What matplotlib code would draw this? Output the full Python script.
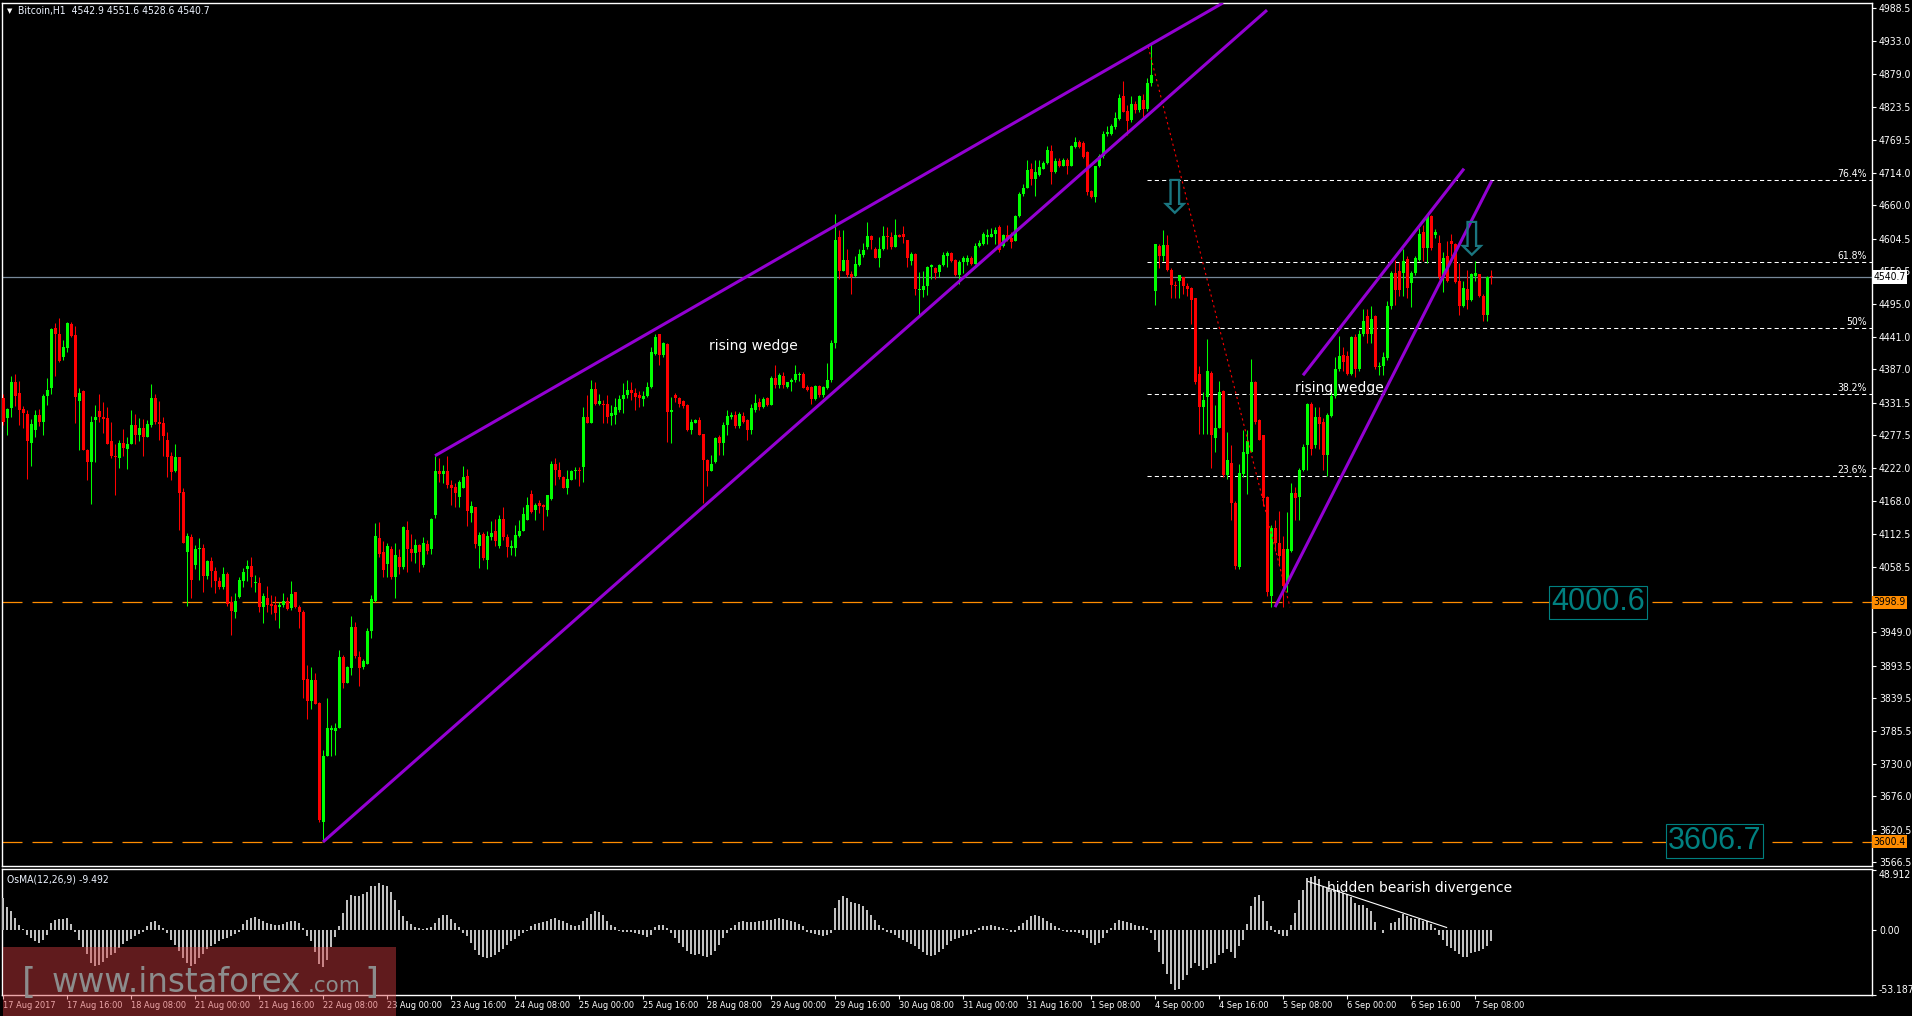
import matplotlib
matplotlib.use('Agg')
import numpy as np
import matplotlib.pyplot as plt
from matplotlib import font_manager
from matplotlib.patches import Rectangle
from matplotlib.transforms import blended_transform_factory

# Bitcoin H1 bars, 17 Aug 2017 00:00 .. 7 Sep 2017 12:00 (weekends skipped)
opens = [
    4339, 4306, 4323, 4365, 4347, 4321, 4312, 4265, 4286, 4311, 4300, 4343,
    4356, 4456, 4446, 4407, 4422, 4462, 4444, 4334, 4351, 4252, 4232, 4302,
    4318, 4308, 4306, 4267, 4243, 4239, 4265, 4255, 4262, 4295, 4278, 4289,
    4275, 4295, 4339, 4300, 4297, 4269, 4242, 4217, 4241, 4183, 4083, 4107,
    4061, 4087, 4090, 4043, 4068, 4051, 4035, 4025, 4046, 3999, 3983, 4008,
    4034, 4054, 4059, 4031, 4031, 3991, 4007, 3996, 3994, 3991, 3994, 4002,
    3989, 4017, 3992, 3983, 3871, 3834, 3870, 3831, 3634, 3743, 3786, 3784,
    3789, 3908, 3865, 3889, 3958, 3908, 3892, 3897, 3951, 4002, 4106, 4083,
    4062, 4087, 4041, 4075, 4057, 4119, 4088, 4081, 4094, 4061, 4096, 4087,
    4144, 4218, 4213, 4217, 4194, 4191, 4174, 4190, 4210, 4148, 4157, 4093,
    4113, 4070, 4107, 4118, 4093, 4137, 4108, 4090, 4089, 4110, 4118, 4136,
    4179, 4152, 4164, 4161, 4153, 4171, 4229, 4219, 4208, 4190, 4203, 4218,
    4220, 4225, 4307, 4298, 4354, 4330, 4330, 4329, 4309, 4311, 4320, 4337,
    4344, 4352, 4348, 4344, 4337, 4343, 4357, 4413, 4446, 4411, 4429, 4316,
    4344, 4339, 4334, 4327, 4286, 4298, 4302, 4279, 4236, 4218, 4233, 4274,
    4265, 4294, 4307, 4311, 4293, 4309, 4302, 4286, 4320, 4333, 4325, 4339,
    4328, 4372, 4361, 4376, 4358, 4366, 4369, 4378, 4379, 4358, 4358, 4337,
    4359, 4344, 4355, 4369, 4430, 4608, 4550, 4569, 4546, 4542, 4561, 4577,
    4590, 4609, 4588, 4572, 4587, 4609, 4608, 4591, 4611, 4612, 4602, 4568,
    4579, 4519, 4519, 4525, 4557, 4555, 4549, 4561, 4576, 4581, 4569, 4544,
    4565, 4565, 4572, 4563, 4592, 4596, 4608, 4608, 4612, 4624, 4593, 4610,
    4606, 4600, 4643, 4679, 4689, 4720, 4704, 4710, 4721, 4731, 4750, 4715,
    4733, 4725, 4735, 4726, 4757, 4765, 4763, 4748, 4683, 4674, 4725, 4742,
    4778, 4779, 4790, 4804, 4842, 4817, 4802, 4829, 4819, 4836, 4820, 4863,
    4518, 4593, 4575, 4594, 4553, 4526, 4534, 4541, 4526, 4522, 4505, 4379,
    4324, 4341, 4380, 4272, 4289, 4350, 4211, 4231, 4164, 4057, 4212, 4246,
    4249, 4365, 4302, 4277, 4175, 4010, 4123, 4098, 4087, 4029, 4084, 4181,
    4175, 4220, 4261, 4330, 4261, 4308, 4299, 4245, 4310, 4343, 4387, 4411,
    4409, 4379, 4440, 4387, 4445, 4476, 4446, 4475, 4390, 4393, 4405, 4493,
    4547, 4550, 4547, 4570, 4531, 4547, 4569, 4616, 4589, 4642, 4610, 4597,
    4543, 4575, 4601, 4595, 4534, 4493, 4520, 4503, 4542, 4545, 4509, 4478,
    4542.9]

highs = [
    4346, 4323, 4375, 4379, 4367, 4326, 4320, 4304, 4320, 4321, 4345, 4372,
    4456, 4464, 4472, 4435, 4466, 4466, 4459, 4355, 4352, 4255, 4309, 4328,
    4346, 4332, 4325, 4300, 4262, 4269, 4287, 4275, 4320, 4313, 4306, 4304,
    4302, 4362, 4345, 4335, 4308, 4282, 4250, 4262, 4241, 4190, 4114, 4112,
    4094, 4106, 4096, 4070, 4074, 4057, 4041, 4057, 4049, 4010, 4015, 4041,
    4056, 4069, 4074, 4045, 4041, 4015, 4027, 4012, 4010, 3999, 4015, 4008,
    4034, 4017, 3995, 3986, 3895, 3892, 3882, 3833, 3753, 3839, 3795, 3798,
    3919, 3912, 3893, 3976, 3967, 3918, 3905, 3957, 4012, 4131, 4132, 4101,
    4098, 4093, 4098, 4087, 4126, 4134, 4113, 4105, 4096, 4107, 4103, 4140,
    4243, 4239, 4228, 4242, 4203, 4197, 4202, 4226, 4221, 4168, 4158, 4116,
    4116, 4118, 4135, 4137, 4145, 4158, 4112, 4103, 4128, 4136, 4158, 4175,
    4186, 4165, 4170, 4162, 4178, 4235, 4240, 4233, 4209, 4219, 4220, 4224,
    4224, 4324, 4344, 4369, 4365, 4346, 4336, 4344, 4327, 4339, 4344, 4364,
    4369, 4366, 4355, 4350, 4350, 4365, 4424, 4446, 4446, 4433, 4430, 4341,
    4347, 4341, 4336, 4330, 4305, 4305, 4307, 4280, 4237, 4244, 4275, 4278,
    4300, 4320, 4316, 4318, 4316, 4316, 4305, 4330, 4346, 4339, 4341, 4341,
    4375, 4394, 4380, 4383, 4366, 4372, 4394, 4383, 4383, 4361, 4359, 4361,
    4361, 4359, 4397, 4436, 4646, 4619, 4619, 4587, 4550, 4575, 4587, 4597,
    4633, 4611, 4591, 4608, 4626, 4624, 4616, 4638, 4613, 4625, 4603, 4583,
    4580, 4549, 4551, 4559, 4562, 4558, 4562, 4583, 4584, 4583, 4570, 4569,
    4575, 4577, 4575, 4597, 4603, 4616, 4620, 4622, 4624, 4628, 4613, 4628,
    4616, 4644, 4682, 4696, 4735, 4731, 4735, 4735, 4733, 4758, 4760, 4738,
    4738, 4738, 4738, 4760, 4773, 4768, 4767, 4750, 4685, 4726, 4745, 4784,
    4792, 4795, 4815, 4846, 4867, 4827, 4842, 4833, 4844, 4845, 4872, 4928,
    4595, 4595, 4619, 4610, 4556, 4534, 4544, 4541, 4530, 4524, 4506, 4393,
    4349, 4437, 4384, 4327, 4368, 4352, 4283, 4261, 4167, 4230, 4286, 4286,
    4404, 4368, 4305, 4277, 4176, 4128, 4136, 4151, 4110, 4149, 4198, 4191,
    4223, 4262, 4331, 4333, 4324, 4324, 4306, 4315, 4358, 4407, 4443, 4424,
    4418, 4442, 4446, 4453, 4488, 4488, 4492, 4478, 4399, 4415, 4500, 4550,
    4569, 4566, 4588, 4575, 4550, 4576, 4622, 4627, 4646, 4644, 4620, 4610,
    4583, 4600, 4613, 4597, 4564, 4534, 4553, 4547, 4568, 4545, 4512, 4543,
    4551.6]

lows = [
    4294, 4278, 4307, 4326, 4294, 4289, 4205, 4226, 4275, 4293, 4278, 4328,
    4346, 4376, 4399, 4402, 4416, 4440, 4297, 4252, 4252, 4203, 4163, 4232,
    4300, 4281, 4262, 4239, 4177, 4223, 4242, 4221, 4262, 4262, 4268, 4242,
    4275, 4291, 4296, 4270, 4242, 4208, 4203, 4216, 4119, 4098, 3993, 4006,
    4054, 4036, 4017, 4038, 4025, 4014, 4022, 4022, 3993, 3944, 3973, 4006,
    4025, 4035, 4025, 4017, 3983, 3965, 3983, 3980, 3970, 3956, 3991, 3986,
    3986, 3989, 3956, 3840, 3805, 3821, 3829, 3633, 3600, 3743, 3743, 3745,
    3789, 3857, 3865, 3878, 3906, 3860, 3888, 3897, 3939, 3999, 4074, 4041,
    4041, 4038, 4006, 4046, 4055, 4049, 4067, 4064, 4049, 4057, 4080, 4079,
    4140, 4200, 4198, 4189, 4161, 4158, 4157, 4189, 4126, 4133, 4090, 4056,
    4070, 4054, 4103, 4092, 4090, 4103, 4075, 4078, 4076, 4108, 4117, 4136,
    4147, 4136, 4148, 4120, 4143, 4170, 4194, 4204, 4189, 4179, 4203, 4204,
    4193, 4200, 4297, 4297, 4327, 4327, 4297, 4297, 4294, 4296, 4316, 4314,
    4339, 4336, 4320, 4325, 4326, 4341, 4355, 4411, 4394, 4408, 4266, 4264,
    4333, 4325, 4322, 4285, 4279, 4297, 4278, 4164, 4192, 4218, 4231, 4244,
    4244, 4278, 4305, 4289, 4290, 4297, 4270, 4280, 4316, 4319, 4322, 4326,
    4328, 4355, 4355, 4355, 4355, 4350, 4366, 4368, 4355, 4350, 4330, 4336,
    4341, 4341, 4354, 4366, 4422, 4537, 4550, 4541, 4513, 4541, 4559, 4574,
    4588, 4588, 4572, 4557, 4586, 4588, 4588, 4591, 4608, 4597, 4557, 4561,
    4511, 4475, 4508, 4511, 4538, 4538, 4541, 4559, 4558, 4566, 4542, 4529,
    4548, 4561, 4561, 4562, 4590, 4594, 4596, 4608, 4596, 4583, 4591, 4600,
    4589, 4600, 4641, 4676, 4688, 4694, 4676, 4708, 4720, 4729, 4696, 4713,
    4723, 4725, 4712, 4725, 4756, 4756, 4738, 4677, 4672, 4666, 4723, 4739,
    4776, 4777, 4787, 4802, 4815, 4777, 4798, 4814, 4815, 4806, 4817, 4858,
    4494, 4556, 4568, 4550, 4506, 4506, 4505, 4512, 4509, 4462, 4362, 4280,
    4280, 4280, 4223, 4249, 4289, 4208, 4205, 4136, 4054, 4054, 4208, 4180,
    4249, 4296, 4270, 4159, 4010, 3991, 4085, 4060, 3991, 4016, 4082, 4136,
    4136, 4217, 4220, 4245, 4256, 4255, 4220, 4210, 4308, 4340, 4384, 4384,
    4377, 4377, 4374, 4384, 4443, 4431, 4431, 4387, 4377, 4377, 4402, 4487,
    4494, 4509, 4509, 4506, 4490, 4544, 4568, 4568, 4564, 4586, 4605, 4538,
    4515, 4532, 4575, 4530, 4478, 4490, 4487, 4500, 4534, 4507, 4468, 4468,
    4528.6]

closes = [
    4300, 4321, 4365, 4343, 4319, 4315, 4268, 4296, 4311, 4300, 4343, 4352,
    4454, 4446, 4401, 4424, 4464, 4443, 4341, 4347, 4253, 4232, 4299, 4307,
    4308, 4305, 4263, 4243, 4241, 4265, 4256, 4263, 4295, 4278, 4289, 4275,
    4296, 4339, 4300, 4296, 4276, 4241, 4216, 4241, 4181, 4098, 4109, 4036,
    4088, 4090, 4043, 4067, 4051, 4035, 4025, 4046, 3997, 3984, 4001, 4036,
    4050, 4059, 4041, 4032, 3991, 4009, 3994, 3993, 3982, 3994, 4002, 3988,
    4013, 3991, 3983, 3870, 3835, 3870, 3829, 3636, 3743, 3789, 3789, 3789,
    3908, 3865, 3891, 3958, 3910, 3889, 3901, 3952, 4004, 4109, 4080, 4053,
    4092, 4041, 4077, 4057, 4124, 4087, 4081, 4094, 4083, 4098, 4085, 4138,
    4218, 4213, 4217, 4194, 4189, 4181, 4199, 4208, 4151, 4159, 4096, 4111,
    4072, 4109, 4114, 4101, 4138, 4108, 4091, 4093, 4111, 4118, 4146, 4161,
    4150, 4161, 4159, 4158, 4178, 4229, 4219, 4208, 4190, 4204, 4218, 4220,
    4217, 4308, 4298, 4354, 4330, 4335, 4327, 4307, 4314, 4324, 4337, 4344,
    4352, 4347, 4341, 4340, 4343, 4357, 4416, 4441, 4411, 4431, 4316, 4319,
    4339, 4330, 4326, 4286, 4300, 4302, 4278, 4236, 4218, 4230, 4272, 4265,
    4294, 4309, 4311, 4293, 4313, 4300, 4286, 4322, 4331, 4325, 4337, 4328,
    4372, 4361, 4377, 4361, 4365, 4369, 4379, 4379, 4356, 4353, 4337, 4359,
    4344, 4358, 4369, 4431, 4603, 4550, 4569, 4544, 4541, 4562, 4579, 4586,
    4609, 4603, 4572, 4588, 4609, 4607, 4590, 4611, 4608, 4608, 4572, 4579,
    4520, 4521, 4525, 4558, 4561, 4547, 4561, 4577, 4581, 4568, 4544, 4566,
    4572, 4573, 4563, 4592, 4598, 4612, 4610, 4612, 4619, 4585, 4610, 4603,
    4599, 4643, 4679, 4689, 4718, 4704, 4715, 4723, 4731, 4752, 4715, 4733,
    4725, 4735, 4726, 4758, 4765, 4757, 4740, 4682, 4674, 4725, 4742, 4779,
    4782, 4792, 4806, 4839, 4815, 4801, 4829, 4819, 4842, 4820, 4863, 4877,
    4595, 4575, 4594, 4553, 4528, 4525, 4544, 4525, 4520, 4503, 4365, 4324,
    4336, 4384, 4277, 4289, 4349, 4211, 4236, 4164, 4060, 4214, 4249, 4267,
    4365, 4299, 4270, 4173, 4017, 4123, 4098, 4076, 4026, 4087, 4181, 4173,
    4220, 4258, 4330, 4255, 4308, 4296, 4245, 4311, 4343, 4387, 4409, 4399,
    4379, 4440, 4387, 4446, 4468, 4446, 4470, 4390, 4393, 4407, 4493, 4547,
    4519, 4519, 4568, 4522, 4547, 4572, 4613, 4589, 4642, 4589, 4616, 4541,
    4572, 4534, 4595, 4532, 4493, 4522, 4503, 4545, 4547, 4509, 4478, 4541,
    4540.7]

# OsMA(12,26,9) histogram, one value per bar
osma = [
    26.4, 19, 15, 9.5, 4, 1,
    -4, -6.8, -9, -10.9, -8.2, -4.6,
    5.4, 8.2, 8.7, 9, 9.5, 4.6,
    -2, -8, -14, -20, -27, -30, -28.6, -26, -23, -21, -19, -15, -12, -9.5, -7.4, -5.4, -3.5, -2,
    2.7, 6.3, 6.8, 4, 1.4,
    -2.7, -8, -12.8, -17.7, -23, -27, -30, -28, -23, -20, -16, -13.6, -11.7, -9.5, -7.9, -6.3, -5.4, -3.5, -1.4,
    4.5, 8, 10, 10.5, 9, 7, 5.7, 4.8, 4, 4, 4.6, 6.3, 7.4, 7.4, 5.4, 1.4,
    -5, -9, -18, -28, -30.5, -25, -14, -6,
    3, 14, 24, 28.5, 27.5, 28, 29.5, 31, 35.4, 36.2, 38.1, 36.8, 36.2, 31.3, 24, 16, 11.5, 7.5, 5, 2, 1.2, 0.8, 1.2, 2,
    5.4, 9.5, 12.3, 11.7, 9, 5.4, 1.9,
    -3, -5.4, -10.9, -16.3, -20.4, -22.6, -23, -22, -20.4, -18.2, -15.5, -12.8, -9.5, -7.4, -5.4, -2.7, -0.8,
    2.7, 4.6, 5.4, 6.3, 7.4, 8.7, 9.5, 8.2, 6.8, 5.4, 4, 3.3, 4, 7.4, 9.5, 12.8, 15, 14.4, 11.7, 6.8, 4, 1.9,
    -0.8, -1.4, -1.9, -1.9, -2.7, -3.5, -4.6, -5.7, -4.6,
    1.9, 4, 4, 1.4,
    -2.7, -6.8, -10.9, -14.4, -17.7, -19.9, -20.4, -19.9, -21.8, -22.6, -20.4, -17.7, -12.3, -6.8, -2.7,
    1.4, 4, 6.3, 6.8, 6.3, 6.3, 6.3, 6.8, 7.4, 8.2, 8.2, 8.7, 9.5, 9, 8.2, 7.4, 6.3, 4.6, 2.7,
    -1.4, -2.7, -3.5, -4.6, -5.4, -4.6, -2.7,
    17.7, 24.5, 28, 25.9, 23.1, 21.8, 21, 19.1, 16.3, 12.3, 8.2, 4, 1.4,
    -1.4, -2.7, -4, -6.3, -8.2, -10, -11.7, -13.6, -15.5, -18.2, -21, -21.8, -20.4, -18.2, -15.5, -12.8, -9.5, -7.4, -6.3, -5.4, -4.6, -3.5, -1.5,
    1.4, 2.7, 3.5, 4, 3.3, 1.9, 1.4, 0.8,
    -1.4, -1.9,
    2.7, 5.4, 8.2, 10.9, 11.7, 10.9, 9.5, 7.4, 5.4, 3.5, 1.4,
    -0.8, -1.4, -1.4, -1.9, -2.7, -4, -6.8, -10.9, -12.8, -10.9, -6.8, -2.7,
    1.4, 5.4, 8.2, 7.4, 6.3, 5.4, 4, 2.7, 2.7, 1.4,
    -3,
    -8, -18, -28, -36, -44, -49, -48, -41, -37, -31, -27, -30, -33, -31, -28, -27, -21, -19, -16, -18, -23, -13, -8,
    4.9, 19.6, 26.7, 28.6, 23.2, 7.6, 2.7, -2.2, -3.3, -5.4, -4.9, 4.1, 13.6, 24, 32.2, 42.2, 43, 44.1, 41.4, 34.9,
    34, 32.7, 32.2, 32.7, 30, 29.4, 27.2, 22.3, 20.4, 20.4, 17.7, 15, 6, 0, -2.7, -0.5, 5.4, 6, 9.5, 13.1,
    10.9, 9.5, 8.7, 8.7, 6.8, 7.6, 4.9, 1.4, -4.1,
    -8, -13, -15, -17, -20, -22, -22, -19, -18, -17, -16, -13, -9.492]

time_labels = ['17 Aug 2017', '17 Aug 16:00', '18 Aug 08:00', '21 Aug 00:00', '21 Aug 16:00',
               '22 Aug 08:00', '23 Aug 00:00', '23 Aug 16:00', '24 Aug 08:00', '25 Aug 00:00',
               '25 Aug 16:00', '28 Aug 08:00', '29 Aug 00:00', '29 Aug 16:00', '30 Aug 08:00',
               '31 Aug 00:00', '31 Aug 16:00', '1 Sep 08:00', '4 Sep 00:00', '4 Sep 16:00',
               '5 Sep 08:00', '6 Sep 00:00', '6 Sep 16:00', '7 Sep 08:00']
bars_per_label = 16

# 4004.0 sits under the 3998.9 marker in the original, so it is left out
price_ticks = [4988.5, 4933.0, 4879.0, 4823.5, 4769.5, 4714.0, 4660.0, 4604.5, 4550.5,
               4495.0, 4441.0, 4387.0, 4331.5, 4277.5, 4222.0, 4168.0, 4112.5, 4058.5,
               3949.0, 3893.5, 3839.5, 3785.5, 3730.0, 3676.0, 3620.5, 3566.5]
osma_ticks = [48.912, 0.0, -53.187]
osma_tick_labels = ['48.912', '0.00', '-53.187']

last_price = 4540.7
support_levels = [3998.9, 3600.4]
target_labels = ['4000.6', '3606.7']
target_anchor = [(398.75, 3998.7), (427.9, 3601.6)]   # (bar, price)

fib_high, fib_low = 4923.0, 3988.0
fib_ratios = [0.236, 0.382, 0.5, 0.618, 0.764]
fib_names = ['23.6%', '38.2%', '50%', '61.8%', '76.4%']
fib_start_bar = 286
fib_trend = ([286.3, 321.75], [4924, 3991])

wedge1_upper = ([108, 305], [4243, 4997])
wedge1_lower = ([80, 316], [3600, 4985])
wedge2_upper = ([325, 365.25], [4377, 4721])
wedge2_lower = ([318, 372.2], [3991, 4701])
wedge_text = [(187.5, 4426), (334.1, 4356)]
sell_arrows = [(293, 4669), (367.2, 4599)]
divergence = ([326.3, 360.9], [39.5, 1.9])

n = len(closes)
assert len(opens) == n and len(highs) == n and len(lows) == n and len(osma) == n

# ---------- fonts: a narrow face for the terminal-style labels
entries = font_manager.fontManager.ttflist
def has_font(name, stretch=None):
    return any(f.name == name and (stretch is None or f.stretch == stretch) for f in entries)

if has_font('Liberation Sans Narrow'):
    ui_family, ui_stretch, axis_size, time_size = 'Liberation Sans Narrow', 'normal', 8, 8
elif has_font('DejaVu Sans', 'condensed'):
    ui_family, ui_stretch, axis_size, time_size = 'DejaVu Sans', 'condensed', 7.5, 6.6
else:
    ui_family, ui_stretch, axis_size, time_size = 'Liberation Sans', 'normal', 7.5, 6.3
plt.rcParams['font.family'] = [ui_family, 'DejaVu Sans']
plt.rcParams['font.stretch'] = ui_stretch

W, H = 1912, 1016
def px_rect(x0, y0, x1, y1):
    return [x0 / W, 1 - y1 / H, (x1 - x0) / W, (y1 - y0) / H]

fig = plt.figure(figsize=(W / 100, H / 100), dpi=100, facecolor='black')
ax = fig.add_axes(px_rect(2, 3, 1872, 866))
ax2 = fig.add_axes(px_rect(2, 869, 1872, 995))
xmax = (1872 - 3) / 4.0
for a in (ax, ax2):
    a.set_facecolor('black')
    a.set_xlim(-0.25, xmax)
    for s in a.spines.values():
        s.set_color('white')
        s.set_linewidth(1.0)
ax.set_ylim(3560.0, 4996.8)
ax2.set_ylim(-53.3, 49.7)

idx = np.arange(n)
o = np.array(opens, float)
h = np.array(highs, float)
l = np.array(lows, float)
c = np.array(closes, float)
up = c >= o
col = np.where(up, '#00ff00', '#ff0000')

# candles
ax.vlines(idx, l, h, colors=col, linewidth=0.75, zorder=3)
body_lo = np.minimum(o, c)
body_h = np.maximum(np.abs(c - o), 1.7)
ax.bar(idx, body_h, bottom=body_lo, width=0.75, color=col, linewidth=0, zorder=4)

# horizontal levels
ax.axhline(last_price, color='#778899', linewidth=0.9, zorder=2)
for lv in support_levels:
    ax.axhline(lv, color='#ff8c00', linewidth=0.9, linestyle=(0, (16, 8)), zorder=2)

# fibonacci retracement
for r, nm in zip(fib_ratios, fib_names):
    lv = fib_low + r * (fib_high - fib_low)
    ax.plot([fib_start_bar, xmax], [lv, lv], color='white', linewidth=0.75,
            linestyle=(0, (4, 3)), zorder=2)
    ax.text(466.0, lv + 2, nm, color='white', fontsize=axis_size, ha='right', va='bottom', zorder=6)
ax.plot(fib_trend[0], fib_trend[1], color='#ff0000', linewidth=0.8, linestyle=(0, (2, 3)), zorder=5)

# wedges
for ln in (wedge1_upper, wedge1_lower, wedge2_upper, wedge2_lower):
    ax.plot(ln[0], ln[1], color='#9400d3', linewidth=2.2, solid_capstyle='butt', zorder=5)
for (bx, py) in wedge_text:
    ax.text(bx, py, 'rising wedge', color='white', fontsize=10, ha='center', va='center',
            family='DejaVu Sans', fontstretch='normal', zorder=7)
for (bx, py) in sell_arrows:
    ax.text(bx, py, '\u21e9', color='#1a7680', fontsize=34, ha='center', va='center',
            family='DejaVu Sans', fontstretch='normal', zorder=7)

# target boxes
for txt, (bx, py) in zip(target_labels, target_anchor):
    ax.text(bx, py, txt, color='#008080', fontsize=22, family='Liberation Sans',
            fontstretch='normal', ha='center', va='center', zorder=8,
            bbox=dict(boxstyle='square,pad=0.06', fc='black', ec='#008080', lw=0.8))

# right price axis
ax.yaxis.tick_right()
ax.set_yticks(price_ticks)
ax.set_yticklabels(['%.1f' % p for p in price_ticks])
ax.tick_params(axis='y', colors='white', length=3, width=0.8, pad=2, labelsize=axis_size)
ax.set_xticks([])
trans = blended_transform_factory(ax.transAxes, ax.transData)
ax.text(1.0008, last_price, '%.1f' % last_price, transform=trans, fontsize=axis_size, color='black',
        ha='left', va='center', clip_on=False, zorder=10,
        bbox=dict(boxstyle='square,pad=0.15', fc='white', ec='none'))
for lv in support_levels:
    ax.text(1.0008, lv, '%.1f' % lv, transform=trans, fontsize=axis_size, color='black',
            ha='left', va='center', clip_on=False, zorder=10,
            bbox=dict(boxstyle='square,pad=0.15', fc='#ff8c00', ec='none'))

# OsMA panel
ax2.bar(idx, osma, width=0.62, color='#c0c0c0', linewidth=0, zorder=3)
ax2.plot(divergence[0], divergence[1], color='white', linewidth=0.8, zorder=4)
ax2.text(331.0, 34.0, 'hidden bearish divergence', color='white', fontsize=10,
         family='DejaVu Sans', fontstretch='normal', ha='left', va='center', zorder=5)
ax2.yaxis.tick_right()
ax2.set_yticks(osma_ticks)
ax2.set_yticklabels(osma_tick_labels)
ax2.tick_params(axis='y', colors='white', length=3, width=0.8, pad=2, labelsize=axis_size)
yl = ax2.get_yticklabels()
yl[0].set_va('top')
yl[2].set_va('bottom')
ax2.set_xticks(np.arange(len(time_labels)) * bars_per_label)
ax2.set_xticklabels(time_labels, ha='left')
ax2.tick_params(axis='x', colors='white', length=3, width=0.8, pad=1, labelsize=time_size)

# header texts
fig.text(7 / W, 1 - 11 / H, '\u25bc', color='white', fontsize=5, family='DejaVu Sans',
         fontstretch='normal', va='center')
fig.text(18 / W, 1 - 11 / H, 'Bitcoin,H1  4542.9 4551.6 4528.6 4540.7', color='#eef4ff',
         fontsize=axis_size, va='center')
fig.text(7 / W, 1 - 879 / H, 'OsMA(12,26,9) -9.492', color='#eef4ff', fontsize=axis_size, va='center')

# watermark
fig.add_artist(Rectangle((3 / W, 0), 393 / W, 69 / H, transform=fig.transFigure,
                         facecolor=(0.84, 0.24, 0.26), alpha=0.45, edgecolor='none', zorder=20))
wm = dict(color='#8c8c8c', family='DejaVu Sans', fontstretch='normal', va='baseline', zorder=21)
fig.text(22 / W, 1 - 993 / H, '[', fontsize=26, **wm)
fig.text(52 / W, 1 - 992 / H, 'www.instaforex', fontsize=23.5, **wm)
fig.text(308 / W, 1 - 992 / H, '.com', fontsize=15.5, **wm)
fig.text(364 / W, 1 - 993 / H, ']', fontsize=26, **wm)

fig.savefig('out.png', dpi=100, facecolor='black')
